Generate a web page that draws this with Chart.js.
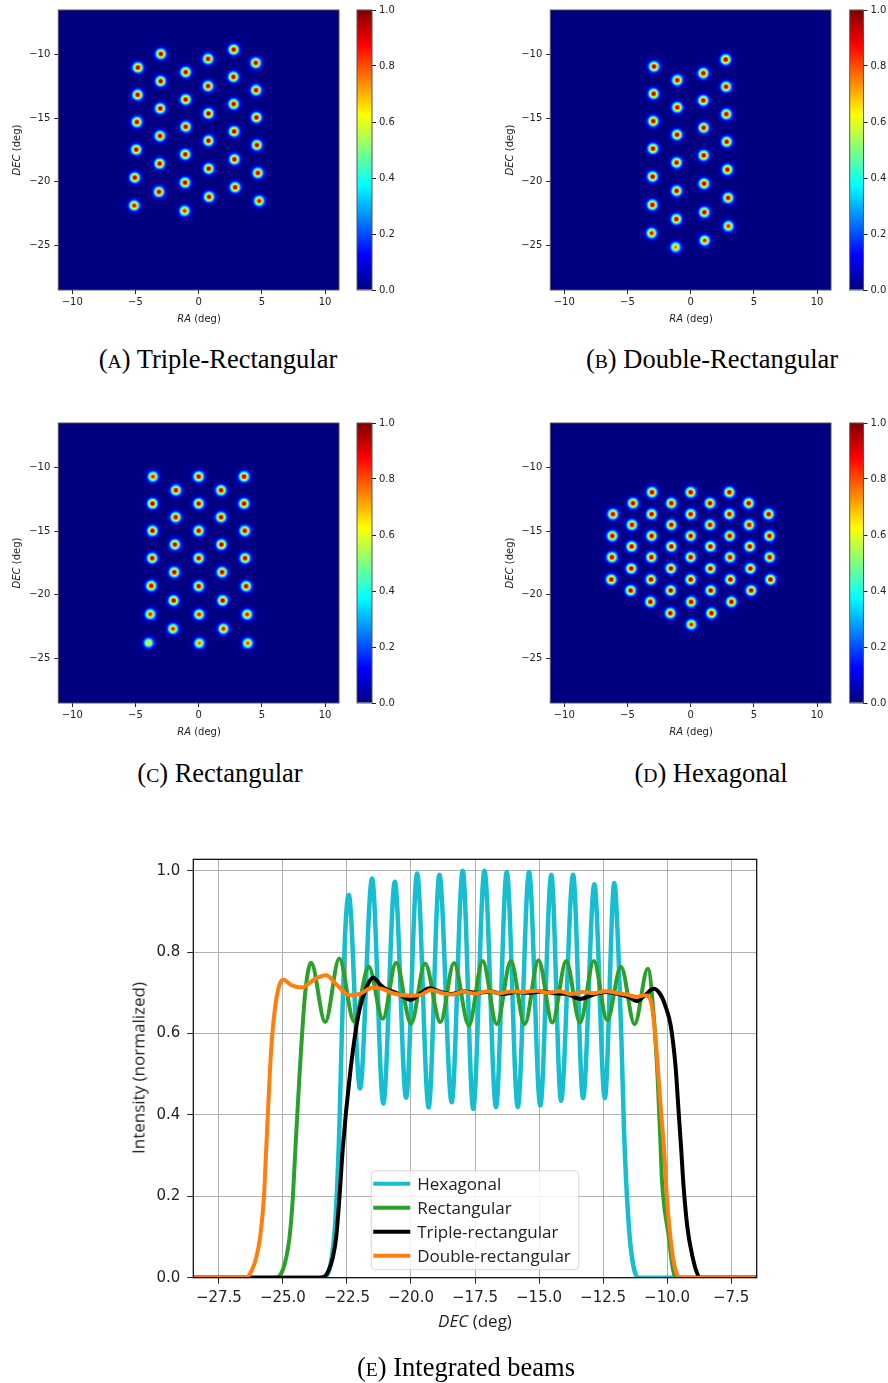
<!DOCTYPE html>
<html>
<head>
<meta charset="utf-8">
<title>Beam patterns and integrated beams</title>
<script src="https://cdn.jsdelivr.net/npm/chart.js@4.4.0/dist/chart.umd.min.js"></script>
<style>
  body { margin: 0; background: #fff; }
  #fig { position: relative; width: 888px; height: 1383px; overflow: hidden; }
  canvas { position: absolute; }
  .lbl { position: absolute; transform: translate(-50%, -50%); white-space: nowrap; color: #222; line-height: 1; }
  .lbl.v { transform: translate(-50%, -50%) rotate(-90deg); }
  .map-lbl { font: 10px "DejaVu Sans"; }
  .beam-lbl { font: 17px "Open Sans"; }
  .cap { position: absolute; transform: translate(-50%, -50%); white-space: nowrap; line-height: 1;
         font: 26.5px "Liberation Serif"; color: #000; }
  .sc { font-size: 0.74em; }
</style>
</head>
<body>
<div id="fig">
  <canvas id="mapA" width="341" height="330" style="left:0;top:0"></canvas>
  <canvas id="barA" width="105" height="330" style="left:339px;top:0"></canvas>
  <canvas id="mapB" width="341" height="330" style="left:492px;top:0"></canvas>
  <canvas id="barB" width="56" height="330" style="left:832px;top:0"></canvas>
  <canvas id="mapC" width="341" height="330" style="left:0;top:413px"></canvas>
  <canvas id="barC" width="105" height="330" style="left:339px;top:413px"></canvas>
  <canvas id="mapD" width="341" height="330" style="left:492px;top:413px"></canvas>
  <canvas id="barD" width="56" height="330" style="left:832px;top:413px"></canvas>
  <canvas id="beams" width="688" height="500" style="left:100px;top:840px"></canvas>

  <div class="lbl map-lbl" style="left:199px;top:318px"><i>RA</i> (deg)</div>
  <div class="lbl map-lbl v" style="left:16px;top:150px"><i>DEC</i> (deg)</div>
  <div class="lbl map-lbl" style="left:691px;top:318px"><i>RA</i> (deg)</div>
  <div class="lbl map-lbl v" style="left:509px;top:150px"><i>DEC</i> (deg)</div>
  <div class="lbl map-lbl" style="left:199px;top:731px"><i>RA</i> (deg)</div>
  <div class="lbl map-lbl v" style="left:16px;top:563px"><i>DEC</i> (deg)</div>
  <div class="lbl map-lbl" style="left:691px;top:731px"><i>RA</i> (deg)</div>
  <div class="lbl map-lbl v" style="left:509px;top:563px"><i>DEC</i> (deg)</div>

  <div class="lbl beam-lbl" style="left:475px;top:1320px"><i>DEC</i> (deg)</div>
  <div class="lbl beam-lbl v" style="left:138px;top:1068px">Intensity (normalized)</div>

  <div class="cap" style="left:218px;top:359px">(<span class="sc">A</span>) Triple-Rectangular</div>
  <div class="cap" style="left:712px;top:359px">(<span class="sc">B</span>) Double-Rectangular</div>
  <div class="cap" style="left:220px;top:773px">(<span class="sc">C</span>) Rectangular</div>
  <div class="cap" style="left:711px;top:773px">(<span class="sc">D</span>) Hexagonal</div>
  <div class="cap" style="left:466px;top:1367px">(<span class="sc">E</span>) Integrated beams</div>
</div>

<script>
// Beam centres [RA, DEC, peak] in degrees; peak defaults to 1
const triRectBeams = [
  [-4.81, -11.02], [-4.83, -13.16], [-4.89, -15.30], [-4.94, -17.47], [-5.05, -19.67], [-5.10, -21.86, 0.94],
  [-2.99, -9.95], [-3.01, -12.09], [-3.04, -14.23], [-3.06, -16.40], [-3.09, -18.57], [-3.14, -20.79],
  [-1.03, -11.38], [-1.03, -13.53], [-1.03, -15.67], [-1.06, -17.84], [-1.08, -20.06], [-1.11, -22.28, 0.9],
  [0.74, -10.34], [0.74, -12.48], [0.77, -14.63], [0.77, -16.77], [0.79, -18.96], [0.82, -21.18],
  [2.77, -9.61], [2.75, -11.75], [2.77, -13.89], [2.80, -16.04], [2.83, -18.23], [2.88, -20.43],
  [4.52, -10.65], [4.54, -12.80], [4.57, -14.94], [4.60, -17.11], [4.68, -19.30], [4.78, -21.50, 0.94],
];
const doubleRectBeams = [
  [-2.90, -10.94], [-2.93, -13.08], [-2.96, -15.23], [-2.98, -17.39], [-3.01, -19.59], [-3.03, -21.81], [-3.09, -24.03, 0.92],
  [-1.06, -12.01], [-1.06, -14.15], [-1.08, -16.30], [-1.11, -18.49], [-1.11, -20.71], [-1.13, -22.93], [-1.19, -25.13, 0.8],
  [1.00, -11.46], [1.00, -13.61], [1.03, -15.75], [1.03, -17.92], [1.06, -20.14], [1.08, -22.39], [1.11, -24.61, 0.9],
  [2.77, -10.39], [2.80, -12.53], [2.82, -14.68], [2.85, -16.85], [2.90, -19.04], [2.96, -21.26], [2.98, -23.48, 0.9],
];
const rectBeams = [
  [-3.62, -10.71, 0.9], [-3.65, -12.83], [-3.65, -14.97], [-3.67, -17.12], [-3.75, -19.29], [-3.83, -21.52, 0.9], [-3.96, -23.77, 0.7],
  [-1.80, -11.78], [-1.82, -13.90], [-1.88, -16.05], [-1.93, -18.22], [-1.98, -20.45], [-2.03, -22.67, 0.9],
  [0.00, -10.71], [0.00, -12.83], [0.00, -14.97], [0.00, -17.12], [0.00, -19.32], [0.03, -21.54, 0.92], [0.05, -23.80, 0.82],
  [1.77, -11.78], [1.77, -13.90], [1.80, -16.05], [1.85, -18.22], [1.90, -20.45], [1.96, -22.67, 0.92],
  [3.59, -10.71], [3.59, -12.83], [3.65, -14.97], [3.67, -17.12], [3.75, -19.32], [3.83, -21.54, 0.92], [3.88, -23.80, 0.85],
];
const hexBeams = [
  [-3.06, -11.94], [0.00, -11.94], [3.06, -11.94],
  [-4.56, -12.80], [-1.53, -12.80], [1.53, -12.80], [4.59, -12.80],
  [-6.15, -13.66], [-3.09, -13.66], [0.00, -13.66], [3.06, -13.66], [6.17, -13.66],
  [-4.64, -14.50], [-1.53, -14.50], [1.53, -14.50], [4.62, -14.50],
  [-6.20, -15.37], [-3.09, -15.37], [0.00, -15.37], [3.09, -15.37], [6.23, -15.37],
  [-4.67, -16.20], [-1.53, -16.20], [1.56, -16.20], [4.67, -16.20],
  [-6.23, -17.04], [-3.11, -17.04], [0.00, -17.04], [3.11, -17.04], [6.25, -17.04],
  [-4.70, -17.93], [-1.56, -17.93], [1.56, -17.93], [4.72, -17.93],
  [-6.28, -18.80], [-3.14, -18.80], [0.00, -18.80], [3.14, -18.80], [6.31, -18.80],
  [-4.75, -19.66], [-1.58, -19.66], [1.58, -19.66], [4.78, -19.66],
  [-3.19, -20.55], [0.03, -20.55], [3.22, -20.55],
  [-1.61, -21.44], [1.64, -21.44],
  [0.05, -22.33, 0.9],
];

// Integrated beam profiles along DEC (deg) -> normalized intensity
const hexDec = [-28.5, -23.5, -23.3, -23.15, -23.0, -22.9, -22.8, -22.7, -22.56, -22.43, -21.99, -21.52, -21.08,
  -20.63, -20.19, -19.76, -19.31, -18.89, -18.41, -17.98, -17.57, -17.13, -16.68, -16.26, -15.83, -15.39, -14.95,
  -14.52, -14.14, -13.67, -13.28, -12.84, -12.43, -12.06, -11.9, -11.78, -11.68, -11.6, -11.46, -11.37, -11.25, -11.1, -6.5];
const hexLevel = [0, 0, 0.005, 0.03, 0.1, 0.2, 0.36, 0.6, 0.86, 0.94, 0.465, 0.981, 0.428,
  0.973, 0.442, 0.993, 0.418, 0.99, 0.431, 1.0, 0.415, 1.0, 0.419, 0.997, 0.419, 0.997, 0.423,
  0.99, 0.435, 0.99, 0.441, 0.967, 0.441, 0.97, 0.8, 0.58, 0.36, 0.24, 0.1, 0.05, 0.012, 0, 0];

const rectDec = [-28.5, -25.4, -25.16, -25.0, -24.87, -24.74, -24.61, -24.51, -24.35, -24.13, -23.9, -23.35, -22.8,
  -22.22, -21.65, -21.1, -20.58, -20.0, -19.45, -18.85, -18.32, -17.74, -17.2, -16.65, -16.1, -15.56, -15.02,
  -14.48, -13.94, -13.4, -12.86, -12.34, -11.8, -11.27, -10.75, -10.52, -10.36, -10.25, -10.2, -10.1, -9.93,
  -9.84, -9.75, -9.67, -6.5];
const rectLevel = [0, 0, 0.003, 0.02, 0.05, 0.1, 0.2, 0.32, 0.5, 0.7, 0.774, 0.628, 0.784,
  0.63, 0.764, 0.636, 0.774, 0.624, 0.772, 0.628, 0.773, 0.62, 0.778, 0.623, 0.778, 0.623, 0.78,
  0.627, 0.778, 0.627, 0.778, 0.633, 0.764, 0.623, 0.759, 0.643, 0.48, 0.317, 0.24, 0.17, 0.1,
  0.05, 0.015, 0, 0];

const tripleDec = [-28.5, -23.6, -23.37, -23.2, -23.05, -22.92, -22.79, -22.66, -22.38, -22.04, -21.69, -21.47, -21.2,
  -20.97, -20.58, -20.0, -19.6, -19.28, -18.83, -18.4, -17.9, -17.4, -16.9, -16.4, -15.9, -15.4, -14.9, -14.4,
  -13.9, -13.39, -12.9, -12.4, -11.9, -11.5, -11.17, -10.85, -10.52, -10.25, -10.05, -9.86, -9.67, -9.54, -9.45,
  -9.35, -9.2, -9.0, -8.85, -8.7, -6.5];
const tripleLevel = [0, 0, 0.003, 0.02, 0.05, 0.1, 0.2, 0.32, 0.5, 0.65, 0.72, 0.737, 0.72,
  0.709, 0.70, 0.683, 0.70, 0.711, 0.702, 0.697, 0.703, 0.70, 0.703, 0.697, 0.702, 0.70, 0.703, 0.699,
  0.697, 0.685, 0.695, 0.702, 0.697, 0.69, 0.68, 0.695, 0.71, 0.695, 0.665, 0.62, 0.52, 0.40, 0.317,
  0.22, 0.12, 0.05, 0.015, 0, 0];

const doubleDec = [-28.5, -26.6, -26.37, -26.2, -26.04, -25.89, -25.74, -25.65, -25.46, -25.26, -25.1, -24.98, -24.68,
  -24.25, -23.77, -23.31, -22.92, -22.4, -22.01, -21.49, -21.1, -20.71, -20.06, -19.67, -19.22, -18.83, -18.4,
  -17.95, -17.5, -17.0, -16.55, -16.1, -15.6, -15.1, -14.65, -14.2, -13.75, -13.3, -12.85, -12.4, -12.0, -11.55,
  -11.2, -10.9, -10.71, -10.55, -10.4, -10.25, -10.12, -10.0, -9.87, -9.77, -9.65, -9.48, -6.5];
const doubleLevel = [0, 0, 0.003, 0.02, 0.05, 0.1, 0.2, 0.32, 0.56, 0.685, 0.725, 0.732, 0.719,
  0.713, 0.733, 0.743, 0.721, 0.694, 0.697, 0.713, 0.709, 0.699, 0.693, 0.694, 0.707, 0.70, 0.696,
  0.703, 0.698, 0.704, 0.699, 0.703, 0.702, 0.705, 0.70, 0.704, 0.697, 0.702, 0.699, 0.704, 0.70, 0.695,
  0.69, 0.694, 0.69, 0.65, 0.55, 0.42, 0.317, 0.19, 0.1, 0.05, 0.015, 0, 0];

const colorbarTicks = [0, 0.2, 0.4, 0.6, 0.8, 1.0];

/* ── helpers ─────────────────────────────────────── */

Chart.defaults.font.family = 'DejaVu Sans';
const INK = '#222';
const minus = s => String(s).replace('-', '\u2212');

// fixed axis box sizes, no extra label padding pushed into the layout
const fixWidth = w => s => { s.width = w; s.paddingTop = s.paddingBottom = 0; };
const fixHeight = h => s => { s.height = h; s.paddingLeft = s.paddingRight = 0; };

// matplotlib "jet", piecewise linear
function jet(v) {
  const c = t => Math.max(0, Math.min(1, t));
  return [c(1.5 - Math.abs(4 * v - 3)), c(1.5 - Math.abs(4 * v - 2)), c(1.5 - Math.abs(4 * v - 1))]
    .map(t => Math.round(t * 255));
}
const JET_STOPS = [[0, '#000080'], [0.125, '#0000ff'], [0.375, '#00ffff'], [0.625, '#ffff00'], [0.875, '#ff0000'], [1, '#800000']];

// Gaussian beam sprite used as point style
const spriteCache = {};
function beamSprite(peak) {
  const key = peak.toFixed(2);
  if (spriteCache[key]) return spriteCache[key];
  const R = 10, size = 2 * R + 1, sigma = 3.2;
  const cv = document.createElement('canvas');
  cv.width = cv.height = size;
  const g = cv.getContext('2d');
  const img = g.createImageData(size, size);
  for (let j = 0; j < size; j++) {
    for (let i = 0; i < size; i++) {
      const dx = i - R, dy = j - R, r2 = dx * dx + dy * dy;
      const v = peak * Math.exp(-r2 / (2 * sigma * sigma));
      const [r, gg, b] = jet(v);
      const k = (j * size + i) * 4;
      img.data[k] = r; img.data[k + 1] = gg; img.data[k + 2] = b;
      img.data[k + 3] = r2 <= (R + 0.5) * (R + 0.5) ? 255 : 0;
    }
  }
  g.putImageData(img, 0, 0);
  spriteCache[key] = cv;
  return cv;
}

const mapBackground = {
  id: 'mapBackground',
  beforeDatasetsDraw(chart) {
    const { ctx, chartArea: a } = chart;
    ctx.save();
    ctx.fillStyle = 'rgb(0,0,128)';
    ctx.fillRect(a.left, a.top, a.width, a.height);
    ctx.restore();
  },
};

const frame = (color, width) => ({
  id: 'frame',
  afterDatasetsDraw(chart) {
    const { ctx, chartArea: a } = chart;
    ctx.save();
    ctx.strokeStyle = color;
    ctx.lineWidth = width;
    ctx.strokeRect(a.left, a.top, a.width, a.height);
    ctx.restore();
  },
});

const quiet = { legend: { display: false }, tooltip: { enabled: false } };

/* ── beam maps ───────────────────────────────────── */

function beamMap(id, beams) {
  return new Chart(document.getElementById(id), {
    type: 'scatter',
    data: {
      datasets: [{
        data: beams.map(b => ({ x: b[0], y: b[1] })),
        pointStyle: beams.map(b => beamSprite(b[2] ?? 1)),
        pointRadius: 7,
      }],
    },
    options: {
      responsive: false, animation: false, events: [],
      layout: { autoPadding: false, padding: { top: 10, right: 2, left: 0, bottom: 0 } },
      scales: {
        x: {
          min: -11.1, max: 11.1,
          ticks: { stepSize: 5, includeBounds: false, padding: 2, color: INK, font: { size: 10 }, callback: v => minus(v) },
          grid: { drawOnChartArea: false, tickLength: 4, tickColor: INK },
          border: { display: false },
          afterFit: fixHeight(40),
        },
        y: {
          min: -28.5, max: -6.5,
          ticks: { stepSize: 5, includeBounds: false, padding: 4, color: INK, font: { size: 10 }, callback: v => minus(v) },
          grid: { drawOnChartArea: false, tickLength: 4, tickColor: INK },
          border: { display: false },
          afterFit: fixWidth(58.3),
        },
      },
      plugins: quiet,
    },
    plugins: [mapBackground, frame('#555', 1)],
  });
}

function jetGradient(c) {
  const a = c.chart.chartArea;
  if (!a) return '#000080';
  const g = c.chart.ctx.createLinearGradient(0, a.bottom, 0, a.top);
  JET_STOPS.forEach(([t, col]) => g.addColorStop(t, col));
  return g;
}

function colorbar(id, padLeft, axisWidth) {
  return new Chart(document.getElementById(id), {
    type: 'bar',
    data: {
      labels: [''],
      datasets: [{
        data: [[colorbarTicks[0], colorbarTicks[colorbarTicks.length - 1]]],
        backgroundColor: jetGradient, borderWidth: 0, inflateAmount: 0,
        barPercentage: 1, categoryPercentage: 1,
      }],
    },
    options: {
      responsive: false, animation: false, events: [],
      layout: { autoPadding: false, padding: { top: 10, bottom: 40, left: padLeft, right: 0 } },
      scales: {
        x: { display: false },
        y: {
          position: 'right', min: 0, max: 1,
          afterBuildTicks: s => { s.ticks = colorbarTicks.map(v => ({ value: v })); },
          ticks: { padding: 3, color: INK, font: { size: 10 }, callback: v => v.toFixed(1) },
          grid: { drawOnChartArea: false, tickLength: 4, tickColor: INK },
          border: { display: false },
          afterFit: fixWidth(axisWidth),
        },
      },
      plugins: quiet,
    },
    plugins: [frame('#555', 1)],
  });
}

beamMap('mapA', triRectBeams);
beamMap('mapB', doubleRectBeams);
beamMap('mapC', rectBeams);
beamMap('mapD', hexBeams);
colorbar('barA', 18, 72);
colorbar('barB', 17.7, 24.5);
colorbar('barC', 18, 72);
colorbar('barD', 17.7, 24.5);

/* ── integrated beams ────────────────────────────── */

const zip = (xs, ys) => xs.map((x, i) => ({ x, y: ys[i] }));

const beamLegend = {
  id: 'beamLegend',
  afterDatasetsDraw(chart) {
    const { ctx, chartArea: a } = chart;
    const items = chart.data.datasets;
    ctx.save();
    ctx.font = '17px "Open Sans"';
    const textW = Math.max(...items.map(d => ctx.measureText(d.label).width));
    const rowH = 24;
    const w = 46 + textW + 8, h = items.length * rowH + 3;
    const x0 = (a.left + a.right) / 2 - w / 2;
    const y0 = a.bottom - 8 - h;
    ctx.beginPath();
    ctx.roundRect(x0, y0, w, h, 4);
    ctx.fillStyle = 'rgba(255,255,255,0.85)';
    ctx.fill();
    ctx.strokeStyle = '#d6d6d6';
    ctx.lineWidth = 1;
    ctx.stroke();
    items.forEach((d, i) => {
      const cy = y0 + 13 + i * rowH;
      ctx.beginPath();
      ctx.moveTo(x0 + 2, cy);
      ctx.lineTo(x0 + 39, cy);
      ctx.strokeStyle = d.borderColor;
      ctx.lineWidth = 4;
      ctx.stroke();
      ctx.fillStyle = INK;
      ctx.textBaseline = 'middle';
      ctx.fillText(d.label, x0 + 46, cy + 1);
    });
    ctx.restore();
  },
};

new Chart(document.getElementById('beams'), {
  type: 'line',
  data: {
    datasets: [
      { label: 'Hexagonal',          data: zip(hexDec, hexLevel),       borderColor: '#17becf', borderWidth: 4.5, order: 4 },
      { label: 'Rectangular',        data: zip(rectDec, rectLevel),     borderColor: '#2ca02c', borderWidth: 4,   order: 3 },
      { label: 'Triple-rectangular', data: zip(tripleDec, tripleLevel), borderColor: '#000000', borderWidth: 4,   order: 2 },
      { label: 'Double-rectangular', data: zip(doubleDec, doubleLevel), borderColor: '#ff7f0e', borderWidth: 4,   order: 1 },
    ],
  },
  options: {
    responsive: false, animation: false, events: [],
    elements: {
      point: { radius: 0 },
      line: { cubicInterpolationMode: 'monotone', borderCapStyle: 'round', borderJoinStyle: 'round' },
    },
    layout: { autoPadding: false, padding: { top: 19.3, right: 31.3, left: 0, bottom: 0 } },
    scales: {
      x: {
        type: 'linear', min: -28.5, max: -6.5,
        ticks: { stepSize: 2.5, includeBounds: false, padding: 5, color: INK, font: { size: 15 }, callback: v => minus(v.toFixed(1)) },
        grid: { color: '#b0b0b0', lineWidth: 1, tickLength: 6, tickColor: INK },
        border: { display: false },
        afterFit: fixHeight(62.3),
      },
      y: {
        min: 0, max: 1.028,
        ticks: { stepSize: 0.2, includeBounds: false, padding: 7, color: INK, font: { size: 15 }, callback: v => v.toFixed(1) },
        grid: { color: '#b0b0b0', lineWidth: 1, tickLength: 6, tickColor: INK },
        border: { display: false },
        afterFit: fixWidth(93.3),
      },
    },
    plugins: quiet,
  },
  plugins: [frame('#000', 1.2), beamLegend],
});
</script>
</body>
</html>
